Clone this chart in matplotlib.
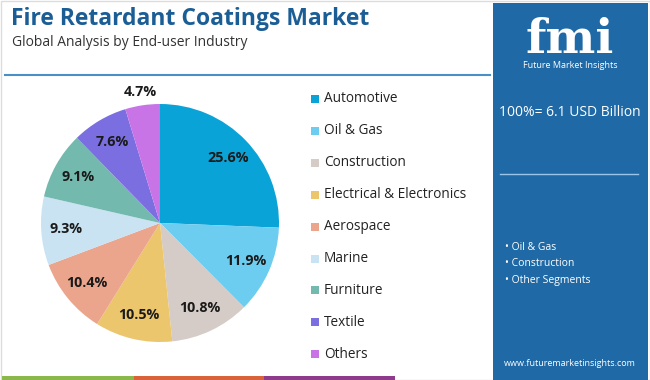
import matplotlib
matplotlib.use("Agg")
import matplotlib.pyplot as plt
import numpy as np
from matplotlib.patches import Rectangle

plt.rcParams['font.family'] = ['Open Sans', 'DejaVu Sans']

categories = ["Automotive", "Oil & Gas", "Construction", "Electrical & Electronics",
              "Aerospace", "Marine", "Furniture", "Textile", "Others"]
shares = [25.6, 11.9, 10.8, 10.5, 10.4, 9.3, 9.1, 7.6, 4.7]
colors = ["#0aa3d8", "#6dcdf0", "#d5ccc8", "#ebc66c", "#eba58d",
          "#c9e3f3", "#73b9ae", "#7b6ee0", "#c874e6"]
title = "Fire Retardant Coatings Market"
subtitle = "Global Analysis by End-user Industry"
total_label = "100%= 6.1 USD Billion"
side_bullets = ["Oil & Gas", "Construction", "Other Segments"]

W, H = 650, 380
fig = plt.figure(figsize=(W / 100, H / 100), dpi=100)
fig.patch.set_facecolor("white")

def fx(x):
    return x / W

def fy(y):
    return 1 - y / H

# background overlay axes
bg = fig.add_axes([0, 0, 1, 1])
bg.set_xlim(0, W)
bg.set_ylim(H, 0)
bg.axis("off")
bg.add_patch(Rectangle((0.5, 0.5), W - 1, H - 1, fill=False, ec="#dcdcdc", lw=1))

# title
bg.text(11, 19, title, fontsize=16.5, fontweight="bold", color="#1b5e96", va="center", ha="left")
bg.text(12, 42, subtitle, fontsize=10, color="#333333", va="center", ha="left")
bg.plot([5, 490], [75, 75], color="#4a90c8", lw=1.5)

# bottom stripes
bg.add_patch(Rectangle((2, 376), 132, 4, color="#8ab84a", lw=0))
bg.add_patch(Rectangle((134, 376), 130, 4, color="#d9623b", lw=0))
bg.add_patch(Rectangle((264, 376), 131, 4, color="#8e3b8c", lw=0))

# right panel
bg.add_patch(Rectangle((493, 3), 155, 377, color="#1f6aa6", lw=0))
bg.text(570, 40, "fmi", fontsize=34, fontweight="bold", color="white", ha="center", va="center",
        family=["DejaVu Serif"])
bg.text(570, 66, "Future Market Insights", fontsize=6.5, color="white", ha="center", va="center")
bg.text(570, 113, total_label, fontsize=10, color="white", ha="center", va="center")
bg.plot([500, 638], [174, 174], color="#9cc4e6", lw=1)
for i, b in enumerate(side_bullets):
    yy = [248, 263, 280][i]
    bg.text(505, yy, "\u2022 " + b, fontsize=7.5, color="white", ha="left", va="center")
bg.text(570, 364, "www.futuremarketinsights.com", fontsize=6.5, color="white", ha="center", va="center")

# pie
cx, cy, r = 160, 223, 119
ax = fig.add_axes([fx(cx - r), fy(cy + r), 2 * r / W, 2 * r / H])
wedges, _ = ax.pie(shares, colors=colors, startangle=90, counterclock=False, radius=1,
                   wedgeprops=dict(lw=0))
ax.set_xlim(-1, 1)
ax.set_ylim(-1, 1)
ax.set_aspect("auto")
ax.axis("off")
total = sum(shares)
ang = 90.0
for i, s in enumerate(shares):
    mid = ang - s / total * 360 / 2
    ang -= s / total * 360
    d = 0.79 if s > 5 else 1.11
    x = d * np.cos(np.radians(mid))
    y = d * np.sin(np.radians(mid))
    ax.text(x, y, f"{s}%", fontsize=10.3, fontweight="bold", color="#1a1a1a",
            ha="center", va="center", clip_on=False)

# legend
for i, (c, col) in enumerate(zip(categories, colors)):
    yy = 99 + i * 31.9
    bg.add_patch(Rectangle((311, yy - 4), 8, 8, color=col, lw=0))
    bg.text(324, yy, c, fontsize=9.8, color="#222222", ha="left", va="center")

fig.savefig("out.png", dpi=100)
